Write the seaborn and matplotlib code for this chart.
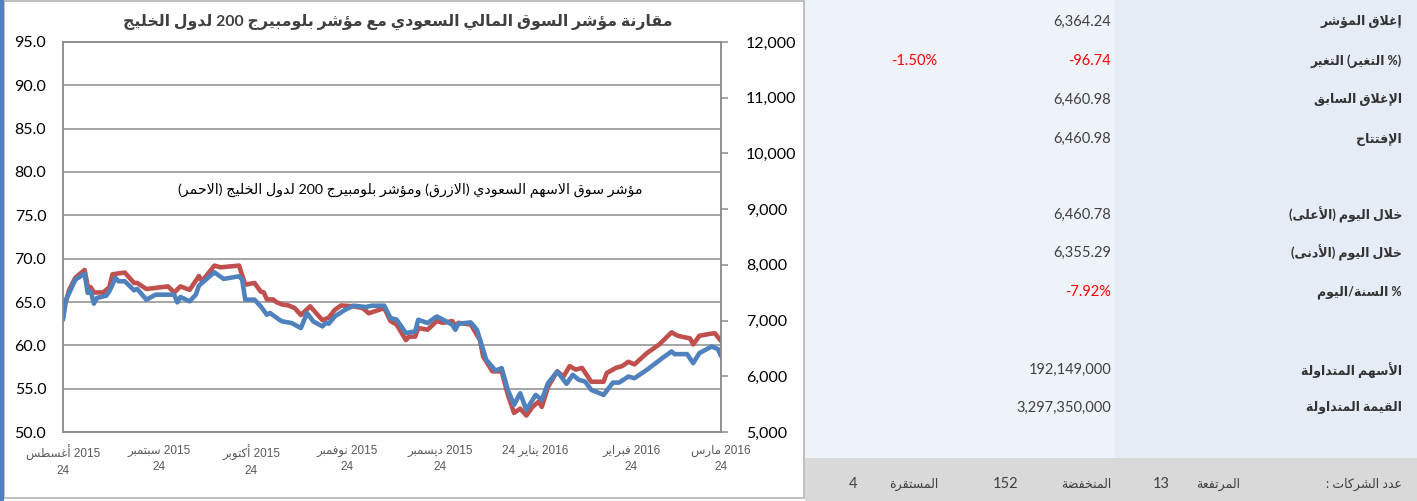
import re
import pandas as pd
import matplotlib
matplotlib.use('Agg')
import matplotlib.pyplot as plt
from matplotlib.patches import Rectangle
from matplotlib.ticker import FuncFormatter
import seaborn as sns

# Bloomberg GCC 200 index (red, left axis)
gcc_dates = ['2015-08-24', '2015-08-26', '2015-08-28', '2015-08-31', '2015-09-01', '2015-09-02',
             '2015-09-03', '2015-09-06', '2015-09-08', '2015-09-09', '2015-09-13', '2015-09-16',
             '2015-09-17', '2015-09-20', '2015-09-27', '2015-09-29', '2015-10-01', '2015-10-04',
             '2015-10-07', '2015-10-08', '2015-10-12', '2015-10-14', '2015-10-20', '2015-10-22',
             '2015-10-25', '2015-10-27', '2015-10-28', '2015-10-29', '2015-10-31', '2015-11-01',
             '2015-11-03', '2015-11-05', '2015-11-07', '2015-11-09', '2015-11-12', '2015-11-16',
             '2015-11-18', '2015-11-20', '2015-11-22', '2015-11-26', '2015-11-29', '2015-12-01',
             '2015-12-06', '2015-12-08', '2015-12-10', '2015-12-13', '2015-12-14', '2015-12-16',
             '2015-12-17', '2015-12-20', '2015-12-23', '2015-12-25', '2015-12-28', '2015-12-29',
             '2015-12-30', '2016-01-03', '2016-01-06', '2016-01-07', '2016-01-10', '2016-01-13',
             '2016-01-15', '2016-01-17', '2016-01-19', '2016-01-21', '2016-01-23', '2016-01-25',
             '2016-01-26', '2016-01-28', '2016-01-31', '2016-02-02', '2016-02-04', '2016-02-06',
             '2016-02-08', '2016-02-11', '2016-02-15', '2016-02-16', '2016-02-19', '2016-02-21',
             '2016-02-23', '2016-02-25', '2016-02-29', '2016-03-04', '2016-03-08', '2016-03-10',
             '2016-03-14', '2016-03-15', '2016-03-17', '2016-03-20', '2016-03-22', '2016-03-24']
gcc_values = [63.9, 66.4, 67.8, 68.7, 66.8, 66.7,
              66.1, 66.1, 66.7, 68.2, 68.4, 67.2,
              67.2, 66.5, 66.8, 66.1, 66.8, 66.4,
              68.0, 67.4, 69.2, 69.0, 69.2, 67.0,
              67.2, 66.2, 66.1, 65.3, 65.3, 65.0,
              64.7, 64.6, 64.3, 63.5, 64.5, 62.9,
              63.2, 64.1, 64.6, 64.5, 64.3, 63.7,
              64.3, 62.8, 62.4, 60.6, 61.0, 61.0,
              62.0, 61.8, 62.8, 62.6, 62.8, 62.2,
              62.6, 62.4, 60.6, 58.7, 57.0, 57.0,
              54.3, 52.2, 52.7, 51.9, 52.9, 53.5,
              52.9, 55.2, 57.0, 56.4, 57.6, 57.2,
              57.4, 55.8, 55.8, 56.8, 57.4, 57.6,
              58.1, 57.8, 59.1, 60.1, 61.5, 61.1,
              60.8, 60.1, 61.1, 61.3, 61.4, 60.5]

# Saudi stock market index TASI (blue, right axis)
tasi_dates = ['2015-08-24', '2015-08-25', '2015-08-28', '2015-08-31', '2015-09-01', '2015-09-02',
              '2015-09-03', '2015-09-04', '2015-09-07', '2015-09-08', '2015-09-10', '2015-09-11',
              '2015-09-13', '2015-09-16', '2015-09-17', '2015-09-20', '2015-09-23', '2015-09-29',
              '2015-09-30', '2015-10-01', '2015-10-04', '2015-10-06', '2015-10-07', '2015-10-12',
              '2015-10-15', '2015-10-20', '2015-10-21', '2015-10-22', '2015-10-25', '2015-10-27',
              '2015-10-29', '2015-10-30', '2015-11-02', '2015-11-03', '2015-11-06', '2015-11-09',
              '2015-11-11', '2015-11-13', '2015-11-16', '2015-11-17', '2015-11-18', '2015-11-20',
              '2015-11-23', '2015-11-26', '2015-11-30', '2015-12-02', '2015-12-06', '2015-12-08',
              '2015-12-10', '2015-12-13', '2015-12-16', '2015-12-17', '2015-12-20', '2015-12-23',
              '2015-12-27', '2015-12-28', '2015-12-29', '2015-12-30', '2016-01-03', '2016-01-05',
              '2016-01-06', '2016-01-08', '2016-01-11', '2016-01-13', '2016-01-15', '2016-01-17',
              '2016-01-19', '2016-01-21', '2016-01-24', '2016-01-26', '2016-01-28', '2016-01-31',
              '2016-02-03', '2016-02-05', '2016-02-07', '2016-02-09', '2016-02-11', '2016-02-15',
              '2016-02-18', '2016-02-20', '2016-02-23', '2016-02-25', '2016-02-29', '2016-03-05',
              '2016-03-08', '2016-03-09', '2016-03-13', '2016-03-15', '2016-03-17', '2016-03-21',
              '2016-03-23', '2016-03-24']
tasi_values = [7015, 7375, 7735, 7843, 7496, 7525,
               7303, 7406, 7447, 7525, 7766, 7705,
               7705, 7543, 7568, 7375, 7465, 7465,
               7327, 7424, 7345, 7465, 7627, 7867,
               7748, 7795, 7735, 7375, 7375, 7255,
               7105, 7136, 7015, 6985, 6956, 6866,
               7136, 6985, 6895, 6956, 6943, 7075,
               7183, 7267, 7244, 7267, 7267, 7046,
               7015, 6776, 6805, 7015, 6956, 7075,
               6956, 6925, 6835, 6943, 6967, 6835,
               6655, 6296, 6103, 6146, 5756, 5486,
               5696, 5396, 5666, 5576, 5876, 6085,
               5864, 6026, 5936, 5905, 5756, 5666,
               5887, 5887, 5995, 5966, 6116, 6326,
               6445, 6398, 6398, 6236, 6416, 6535,
               6488, 6364]

tick_dates = ['2015-08-24', '2015-09-24', '2015-10-24', '2015-11-24',
              '2015-12-24', '2016-01-24', '2016-02-24', '2016-03-24']
tick_labels = ['2015 أغسطس\n24', '2015 سبتمبر\n24', '2015 أكتوبر\n24', '2015 نوفمبر\n24',
               '2015 ديسمبر\n24', '2016 يناير 24', '2016 فبراير\n24', '2016 مارس\n24']

title = 'مقارنة مؤشر السوق المالي السعودي مع مؤشر بلومبيرج 200 لدول الخليج'
note = 'مؤشر سوق الاسهم السعودي (الازرق) ومؤشر بلومبيرج 200 لدول الخليج (الاحمر)'

row_labels = ['إغلاق المؤشر', '(% التغير) التغير', 'الإغلاق السابق', 'الإفتتاح',
              'خلال اليوم (الأعلى)', 'خلال اليوم (الأدنى)', '% السنة/اليوم',
              'الأسهم المتداولة', 'القيمة المتداولة']
row_values = ['6,364.24', '-96.74', '6,460.98', '6,460.98', '6,460.78', '6,355.29',
              '-7.92%', '192,149,000', '3,297,350,000']
change_pct = '-1.50%'
count_labels = ['عدد الشركات :', 'المرتفعة', 'المنخفضة', 'المستقرة']
count_values = ['13', '152', '4']

# --- small Arabic shaper (matplotlib has no shaping / bidi) ---
DUAL = {'ئ': 0xFE89, 'ب': 0xFE8F, 'ت': 0xFE95, 'ث': 0xFE99, 'ج': 0xFE9D, 'ح': 0xFEA1,
        'خ': 0xFEA5, 'س': 0xFEB1, 'ش': 0xFEB5, 'ص': 0xFEB9, 'ض': 0xFEBD, 'ط': 0xFEC1,
        'ظ': 0xFEC5, 'ع': 0xFEC9, 'غ': 0xFECD, 'ف': 0xFED1, 'ق': 0xFED5, 'ك': 0xFED9,
        'ل': 0xFEDD, 'م': 0xFEE1, 'ن': 0xFEE5, 'ه': 0xFEE9, 'ي': 0xFEF1}
RIGHT = {'آ': 0xFE81, 'أ': 0xFE83, 'ؤ': 0xFE85, 'إ': 0xFE87, 'ا': 0xFE8D, 'ة': 0xFE93,
         'د': 0xFEA9, 'ذ': 0xFEAB, 'ر': 0xFEAD, 'ز': 0xFEAF, 'و': 0xFEED, 'ى': 0xFEEF}
LAM_ALEF = {'آ': 0xFEF5, 'أ': 0xFEF7, 'إ': 0xFEF9, 'ا': 0xFEFB}
MIRROR = {'(': ')', ')': '('}


def shape(text):
    tokens = []
    i = 0
    while i < len(text):
        c = text[i]
        if c == 'ل' and i + 1 < len(text) and text[i + 1] in LAM_ALEF:
            tokens.append(('R', LAM_ALEF[text[i + 1]]))
            i += 2
            continue
        if c in DUAL:
            tokens.append(('D', DUAL[c]))
        elif c in RIGHT:
            tokens.append(('R', RIGHT[c]))
        else:
            tokens.append((None, c))
        i += 1
    out = []
    for k, (kind, val) in enumerate(tokens):
        if kind is None:
            out.append(val)
            continue
        prev_j = k > 0 and tokens[k - 1][0] == 'D'
        next_j = kind == 'D' and k + 1 < len(tokens) and tokens[k + 1][0] is not None
        if kind == 'R':
            out.append(chr(val + (1 if prev_j else 0)))
        else:
            out.append(chr(val + [[0, 2], [1, 3]][prev_j][next_j]))
    return ''.join(out)


def rtl(text):
    lines = []
    for line in text.split('\n'):
        parts = re.split(r'([0-9][0-9.,]*)', shape(line))
        vis = []
        for p in reversed(parts):
            if p and p[0].isdigit():
                vis.append(p)
            else:
                vis.append(''.join(MIRROR.get(ch, ch) for ch in reversed(p)))
        lines.append(''.join(vis))
    return '\n'.join(lines)


sns.set_theme(style='white')
plt.rcParams['font.family'] = ['Lato', 'DejaVu Sans']

W, H = 1417, 501
fig = plt.figure(figsize=(W / 100, H / 100), dpi=100)
fig.patch.set_facecolor('white')


def px(x, y):
    return x / W, 1 - y / H


# background panels in pixel coordinates
bg = fig.add_axes([0, 0, 1, 1], zorder=-5)
bg.set_xlim(0, W)
bg.set_ylim(H, 0)
bg.axis('off')
bg.add_patch(Rectangle((4, 0.5), 800, 497, facecolor='white', edgecolor='#B4B4B4', linewidth=1.2))
bg.add_patch(Rectangle((0, 0), 4, H, facecolor='#4F81BD', edgecolor='none'))
bg.add_patch(Rectangle((805, 0), 310, 458, facecolor='#EEF2F9', edgecolor='none'))
bg.add_patch(Rectangle((1115, 0), 302, 458, facecolor='#E6ECF5', edgecolor='none'))
bg.add_patch(Rectangle((805, 458), 612, 43, facecolor='#D9D9D9', edgecolor='none'))

# chart
gcc = pd.DataFrame({'date': pd.to_datetime(gcc_dates), 'value': gcc_values})
tasi = pd.DataFrame({'date': pd.to_datetime(tasi_dates), 'value': tasi_values})

ax = fig.add_axes([63 / W, 1 - 432 / H, 658 / W, 390 / H])
ax.set_facecolor('none')
sns.lineplot(data=gcc, x='date', y='value', ax=ax, color='#C0504D', linewidth=3.3,
             solid_joinstyle='round', solid_capstyle='round')
ax2 = ax.twinx()
sns.lineplot(data=tasi, x='date', y='value', ax=ax2, color='#4F81BD', linewidth=3.3,
             solid_joinstyle='round', solid_capstyle='round')

ax.set_xlim(pd.Timestamp('2015-08-24'), pd.Timestamp('2016-03-24'))
ax.set_ylim(50, 95)
ax.set_yticks(range(50, 96, 5))
ax.yaxis.set_major_formatter(FuncFormatter(lambda v, p: f'{v:.1f}'))
ax2.set_ylim(5000, 12000)
ax2.set_yticks(range(5000, 12001, 1000))
ax2.yaxis.set_major_formatter(FuncFormatter(lambda v, p: f'{v:,.0f}'))

ax.set_xticks(pd.to_datetime(tick_dates))
ax.set_xticklabels([rtl(t) for t in tick_labels], family=['Liberation Sans', 'DejaVu Sans'],
                   fontsize=8.5, color='#595959', linespacing=1.45)
ax.yaxis.grid(True, color='#8C8C8C', linewidth=1.1)
ax.xaxis.grid(False)
for a in (ax, ax2):
    a.set_xlabel('')
    a.set_ylabel('')
    for s in a.spines.values():
        s.set_color('#8C8C8C')
        s.set_linewidth(1.1)
ax.tick_params(axis='y', length=0, pad=12, labelsize=11.5, labelcolor='black')
ax.tick_params(axis='x', length=0, pad=9)
ax2.tick_params(axis='y', direction='out', length=5, width=1.1, color='#8C8C8C', pad=13,
                labelsize=11.5, labelcolor='black', right=True)

fig.text(*px(398, 22), rtl(title), ha='center', va='center', fontsize=11.3,
         fontweight='bold', color='#404040')
fig.text(*px(410, 190), rtl(note), ha='center', va='center', fontsize=10.3, color='black')

# right-hand table
row_y = [22, 61, 100, 139, 215, 253, 292, 370, 408]
for lab, val, y in zip(row_labels, row_values, row_y):
    col = 'red' if val.startswith('-') else '#404040'
    fig.text(*px(1402, y), rtl(lab), ha='right', va='center', fontsize=9,
             fontweight='bold', color='#333333')
    fig.text(*px(1111, y), val, ha='right', va='center', fontsize=10.5, color=col)
fig.text(*px(937, 61), change_pct, ha='right', va='center', fontsize=10.5, color='red')

count_x = [1402, 1240, 1111, 938]
for lab, x in zip(count_labels, count_x):
    fig.text(*px(x, 484), rtl(lab), ha='right', va='center', fontsize=9, color='#404040')
for val, x in zip(count_values, [1161, 1006, 853]):
    fig.text(*px(x, 484), val, ha='center', va='center', fontsize=10.5, color='#404040')

fig.savefig('out.png', dpi=100)
